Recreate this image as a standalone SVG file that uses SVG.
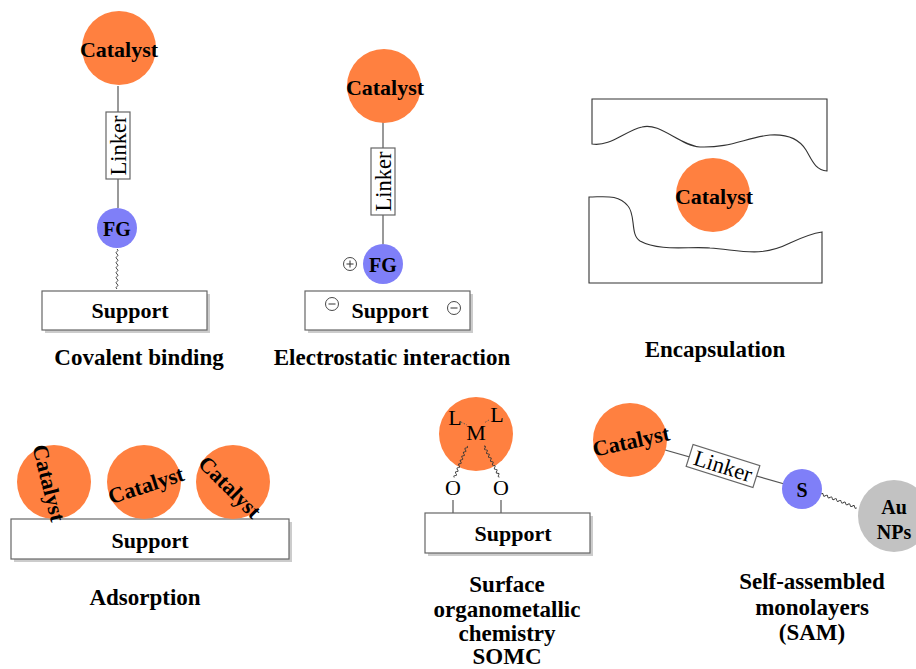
<svg xmlns="http://www.w3.org/2000/svg" width="916" height="669" viewBox="0 0 916 669">
<defs>
<style>
.cat{fill:#FF8040}
.fg{fill:#7F7FF8}
.au{fill:#C2C2C2}
.t{font-family:"Liberation Serif","DejaVu Serif",serif;font-weight:bold;fill:#000;text-anchor:middle;dominant-baseline:central}
.ct{font-size:22px}
.sm{font-size:20px}
.cap{font-size:23px}
.lk{font-family:"Liberation Serif","DejaVu Serif",serif;font-size:22.5px;text-anchor:middle;dominant-baseline:central;fill:#000}
.lm{font-family:"Liberation Serif","DejaVu Serif",serif;font-size:22px;text-anchor:middle;dominant-baseline:central;fill:#000}
.box{fill:#fff;stroke:#666;stroke-width:1.2}
.shadow{fill:#ccc}
.ln{stroke:#555;stroke-width:1.2;fill:none}
.wave{stroke:#333;stroke-width:0.9;fill:none}
.enc{fill:#fff;stroke:#333;stroke-width:1.1}
.chg{fill:#fff;stroke:#333;stroke-width:0.9}
</style>
<path id="wv" d="M0 0 q1.25 -2 2.5 0 t2.5 0 t2.5 0 t2.5 0 t2.5 0 t2.5 0 t2.5 0 t2.5 0 t2.5 0 t2.5 0 t2.5 0 t2.5 0 t2.5 0 t2.5 0 t2.5 0 t2.5 0"/>
</defs>

<g id="connectors">
<!-- panel 1 -->
<line class="ln" x1="118" y1="86" x2="118" y2="208"/>
<use href="#wv" class="wave" transform="translate(117 249) rotate(90)"/>
<!-- panel 2 -->
<line class="ln" x1="383" y1="122" x2="383" y2="244"/>
<!-- panel 5 -->
<line class="ln" x1="453" y1="500" x2="453" y2="513"/>
<line class="ln" x1="501" y1="500" x2="501" y2="513"/>
<!-- panel 6 -->
<line class="ln" x1="630" y1="440" x2="802" y2="489"/>
<use href="#wv" class="wave" transform="translate(821 494) rotate(21) scale(0.96 1)"/>
</g>

<!-- Panel 1: Covalent binding -->
<g id="p1-support">
<rect class="shadow" x="45" y="294" width="165" height="39"/>
<rect class="box" x="42" y="291" width="165" height="39"/>
<text class="t ct" x="130" y="310">Support</text>
</g>
<g id="p1-catalyst">
<circle class="cat" cx="119" cy="48" r="37"/>
<text class="t ct" x="119" y="49">Catalyst</text>
</g>
<g id="p1-linker">
<rect class="box" x="106" y="112" width="24" height="67" stroke="#333"/>
<text class="lk" transform="translate(118 145.5) rotate(-90)">Linker</text>
</g>
<g id="p1-fg">
<circle class="fg" cx="117" cy="228" r="20"/>
<text class="t sm" x="117" y="229">FG</text>
</g>
<text class="t cap" x="139" y="357">Covalent binding</text>

<!-- Panel 2: Electrostatic interaction -->
<g id="p2-support">
<rect class="shadow" x="308" y="294" width="165" height="39"/>
<rect class="box" x="305" y="291" width="165" height="39"/>
<text class="t ct" x="390" y="310">Support</text>
<circle class="chg" cx="332" cy="304" r="6.5"/>
<line stroke="#333" stroke-width="1" x1="328.5" y1="304" x2="335.5" y2="304"/>
<circle class="chg" cx="454" cy="308" r="6.5"/>
<line stroke="#333" stroke-width="1" x1="450.5" y1="308" x2="457.5" y2="308"/>
</g>
<g id="p2-catalyst">
<circle class="cat" cx="384" cy="86" r="37"/>
<text class="t ct" x="385" y="87">Catalyst</text>
</g>
<g id="p2-linker">
<rect class="box" x="371" y="148" width="24" height="67" stroke="#333"/>
<text class="lk" transform="translate(383 181.5) rotate(-90)">Linker</text>
</g>
<g id="p2-fg">
<circle class="fg" cx="383" cy="264" r="20"/>
<text class="t sm" x="383" y="265">FG</text>
<circle class="chg" cx="350" cy="264" r="6.5"/>
<line stroke="#333" stroke-width="1" x1="346.5" y1="264" x2="353.5" y2="264"/>
<line stroke="#333" stroke-width="1" x1="350" y1="260.5" x2="350" y2="267.5"/>
</g>
<text class="t cap" x="392" y="357">Electrostatic interaction</text>

<!-- Panel 3: Encapsulation -->
<g id="p3-top">
<path class="enc" d="M592 99 L827 99 L827 171 C815 170 812 160 806 150 C798 137 785 134 770 135 C745 138 730 148 700 147 C680 146 660 122 642 127 C625 131 610 147 592 144 Z"/>
</g>
<g id="p3-bottom">
<path class="enc" d="M589 197 C605 197 618 194 628 206 C636 215 630 235 640 241 C660 252 690 246 710 248 C740 250 760 258 790 243 C805 236 815 233 822 232 L822 283 L589 283 Z"/>
</g>
<g id="p3-catalyst">
<circle class="cat" cx="713" cy="195" r="37"/>
<text class="t ct" x="714" y="196">Catalyst</text>
</g>
<text class="t cap" x="715" y="349">Encapsulation</text>

<!-- Panel 4: Adsorption -->
<g id="p4-support">
<rect class="shadow" x="14" y="522" width="278" height="40"/>
<rect class="box" x="11" y="519" width="278" height="40"/>
<text class="t ct" x="150" y="540">Support</text>
</g>
<g id="p4-cat1">
<circle class="cat" cx="54" cy="482" r="37"/>
<text class="t ct" transform="translate(49 483) rotate(76)">Catalyst</text>
</g>
<g id="p4-cat2">
<circle class="cat" cx="144" cy="482" r="37"/>
<text class="t ct" transform="translate(146 485) rotate(-18)">Catalyst</text>
</g>
<g id="p4-cat3">
<circle class="cat" cx="233" cy="482" r="37"/>
<text class="t ct" transform="translate(230 487) rotate(45)">Catalyst</text>
</g>
<text class="t cap" x="145" y="597">Adsorption</text>

<!-- Panel 5: SOMC -->
<g id="p5-support">
<rect class="shadow" x="428" y="516" width="165" height="40"/>
<rect class="box" x="425" y="513" width="165" height="40"/>
<text class="t ct" x="513" y="533">Support</text>
</g>
<g id="p5-catalyst">
<circle class="cat" cx="476" cy="434" r="37"/>
<text class="lm" x="455" y="417">L</text>
<text class="lm" x="476" y="432">M</text>
<text class="lm" x="497" y="414">L</text>
<line stroke="#555" stroke-width="0.9" stroke-dasharray="1.5 1.5" x1="461" y1="422" x2="467" y2="425"/>
<line stroke="#555" stroke-width="0.9" stroke-dasharray="1.5 1.5" x1="489" y1="420" x2="484" y2="423"/>
<use href="#wv" class="wave" transform="translate(467 446) rotate(111.8) scale(0.85 1)"/>
<use href="#wv" class="wave" transform="translate(484 446) rotate(63.4) scale(0.87 1)"/>
</g>
<g id="p5-o1"><text class="lm" x="453" y="487">O</text></g>
<g id="p5-o2"><text class="lm" x="501" y="487">O</text></g>
<text class="t cap" x="507" y="584">Surface</text>
<text class="t cap" x="507" y="609">organometallic</text>
<text class="t cap" x="507" y="633">chemistry</text>
<text class="t cap" x="507" y="656">SOMC</text>

<!-- Panel 6: SAM -->
<g id="p6-catalyst">
<circle class="cat" cx="630" cy="440" r="37"/>
<text class="t ct" transform="translate(631 441) rotate(-12.5)">Catalyst</text>
</g>
<g id="p6-linker">
<g transform="translate(723 466) rotate(17.5)">
<rect class="box" x="-35" y="-11.5" width="70" height="23" stroke="#333"/>
<text class="lk" x="0" y="0">Linker</text>
</g>
</g>
<g id="p6-s">
<circle class="fg" cx="802" cy="489" r="20"/>
<text class="t sm" x="802" y="490">S</text>
</g>
<g id="p6-au">
<circle class="au" cx="894" cy="516" r="36"/>
<text class="t sm" x="894" y="507">Au</text>
<text class="t sm" x="894" y="532">NPs</text>
</g>
<text class="t cap" x="812" y="581">Self-assembled</text>
<text class="t cap" x="812" y="607">monolayers</text>
<text class="t cap" x="812" y="632">(SAM)</text>
</svg>
